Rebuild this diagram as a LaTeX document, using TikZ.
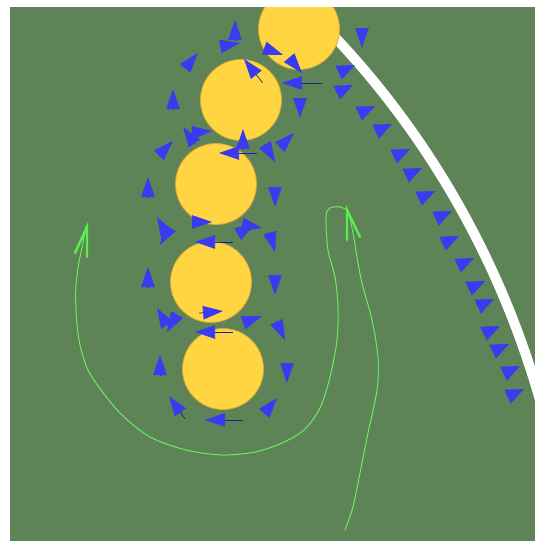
\documentclass[tikz,border=0pt]{standalone}
\usepackage{xcolor}
\usepackage{tikz}
\usetikzlibrary{arrows.meta}
\definecolor{fieldgreen}{RGB}{94,131,86}
\definecolor{ballyellow}{RGB}{255,214,66}
\definecolor{ballrim}{RGB}{214,170,60}
\definecolor{flowblue}{RGB}{58,58,240}
\definecolor{streamgreen}{RGB}{110,236,96}

\begin{document}
\begin{tikzpicture}[
  x=1pt, y=-1pt,
  ball/.style={circle, draw=ballrim, fill=ballyellow, line width=0.8pt,
               minimum size=81pt, inner sep=0pt},
  flow/.style={-{Triangle[length=20pt, width=13.5pt, color=flowblue]},
               draw=flowblue!55!black, line width=0.7pt},
  wallarr/.style={-{Triangle[length=18pt, width=15pt, color=flowblue]},
               draw=flowblue, line width=0.5pt},
  wall/.style={draw=white, line width=10pt, line cap=round},
  stream/.style={draw=streamgreen, line width=1pt},
  streamtip/.style={draw=streamgreen!80!green, line width=2.4pt, line cap=round},
]
\useasboundingbox (0,0) rectangle (535,541);
\fill[fieldgreen] (10,7) rectangle (535,541);

\begin{scope}
\clip (10,7) rectangle (535,541);
% wall
\draw[wall] (330,32) .. controls (400,105) and (490,225) .. (540,400);

% cylinders
\node[ball] (b1) at (299,29) {};
\node[ball] (b2) at (241,100) {};
\node[ball] (b3) at (216,184) {};
\node[ball] (b4) at (211,282) {};
\node[ball] (b5) at (223,369) {};

% flow round the cylinders (tip x / tip y / angle / length)
\foreach \x/\y/\a/\l in {
  173/89/-90/20.2, 198/53/-50/20.2, 240/43/-10/20.2, 235/20/-90/20.2,
  244/59/-128/30, 283/55/20/20.2, 302/73/50/20.2, 282/83/180/40,
  300/118/90/20.2, 362/48/90/20.2,
  183/127/-125/20.2, 212/131/-5/20.2, 173/141/-45/20.2, 243/129/-90/20.2,
  219/153/180/38, 275/162/60/20.2, 294/133/-45/20.2, 275/207/90/20.2,
  148/177/-90/20.2,
  212/222/0/20.2, 157/217/-120/20.2, 160/245/120/20.2, 195/242/180/38,
  255/224/-30/20.2, 262/228/10/20.2, 275/252/75/20.2, 275/295/90/20.2,
  148/267/-90/20.2,
  157/308/-120/20.2, 167/332/120/20.2, 223/311/-5/24, 195/332/180/38,
  262/316/-20/20.2, 285/340/65/20.2, 287/383/90/20.2, 160/355/-90/20.2,
  169/396/-125/28, 205/420/180/38, 277/398/-50/20.2}
  \draw[flow, shift={(\x,\y)}] (\a+180:\l) -- (0,0);

% flow along the wall
\foreach \x/\y in {355/65, 353/85, 375/106, 392/124, 410/149, 422/168,
  435/191, 452/211, 459/236, 474/258, 485/281, 494/299, 500/326,
  509/344, 520/366, 524/389}
  \draw[wallarr, shift={(\x,\y)}] (155:18.2) -- (0,0);

% streamline
\draw[stream] plot[smooth] coordinates {(345,530) (353,507) (360,473)
  (368,433) (377,390) (378,357) (372,320) (362,283) (357,257) (353,233)
  (348,212) (340,207) (330,208) (326,217) (328,250) (335,277) (338,307)
  (337,340) (330,377) (320,408) (304,430) (282,443) (255,452) (222,455)
  (186,450) (150,437) (122,415) (101,390) (87,368) (79,340) (76,310)
  (76,285) (79,262) (83,243) (86,226)};
\draw[streamtip] (87,257) -- (87,227) -- (75,253);
\draw[streamtip] (347,240) -- (347,210) -- (360,237);
\end{scope}
\end{tikzpicture}
\end{document}
